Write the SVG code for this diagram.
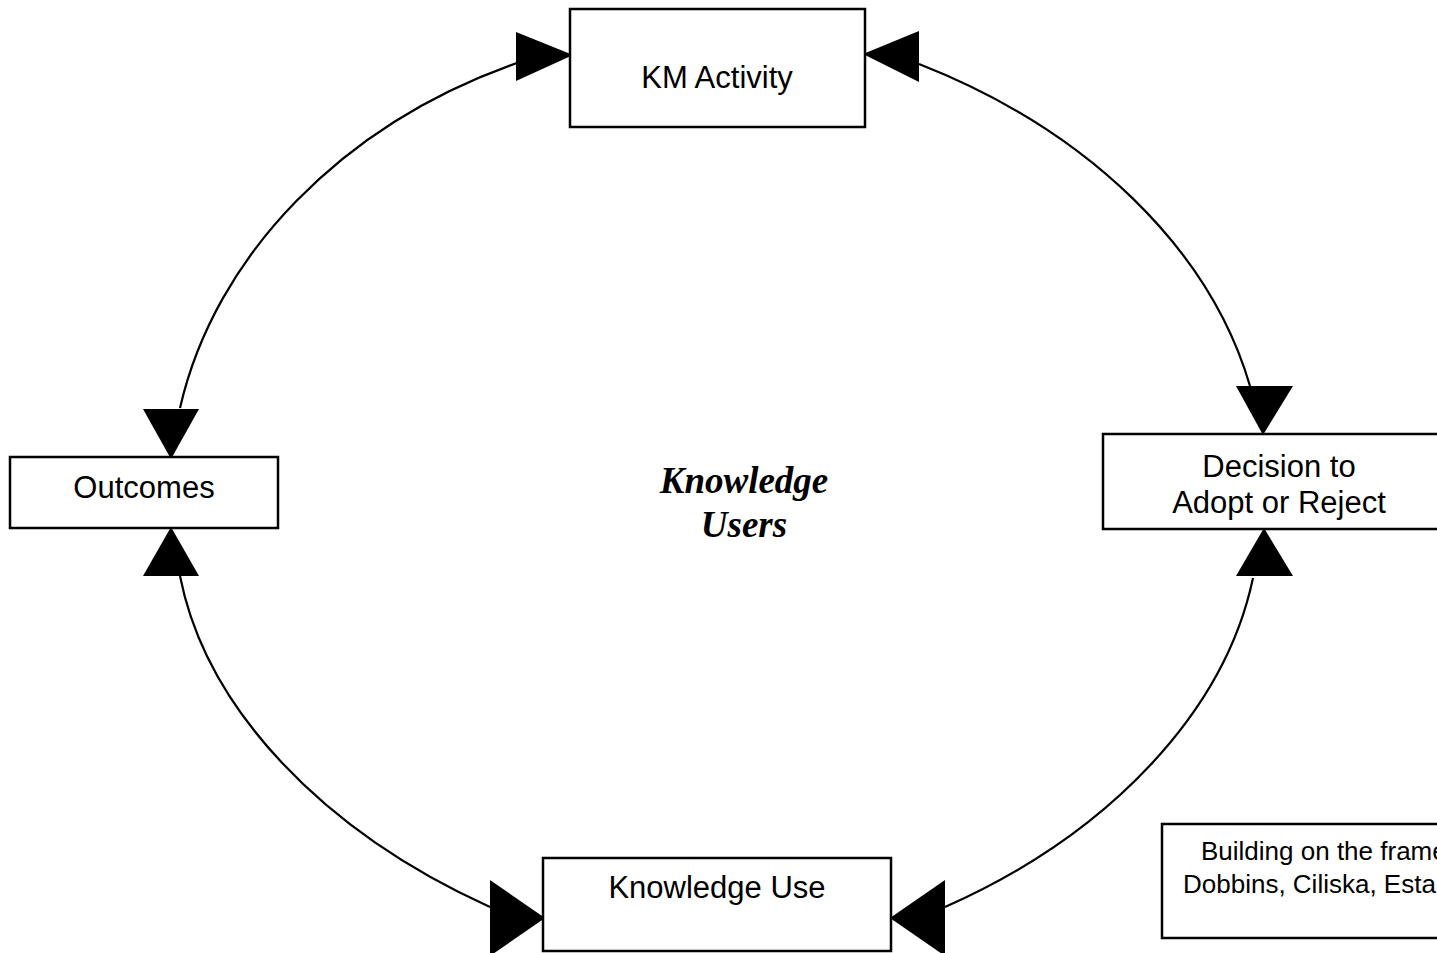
<svg xmlns="http://www.w3.org/2000/svg" width="1437" height="953" viewBox="0 0 1437 953">
<style>
.box{fill:#fff;stroke:#000;stroke-width:2.5}
.lbl{font-family:"Liberation Sans",Arial,sans-serif;font-size:31px;fill:#000;text-anchor:middle}
.note{font-family:"Liberation Sans",Arial,sans-serif;font-size:26px;fill:#000}
.ctr{font-family:"Liberation Serif","Times New Roman",serif;font-size:37px;font-weight:bold;font-style:italic;fill:#000;text-anchor:middle}
.arc{fill:none;stroke:#000;stroke-width:2.2}
.head{fill:#000;stroke:none}
</style>
<rect width="1437" height="953" fill="#fff"/>
<g id="connectors">
<path class="arc" d="M517,63 C343,124 215,255 180,408"/>
<path class="arc" d="M919,64 C1087.5,130 1210,249 1250,386"/>
<path class="arc" d="M180,576 C206,708 322,831 490,907"/>
<path class="arc" d="M1253,578 C1225,711 1110,834 945,907"/>
<polygon class="head" points="516,32 516,81 573,55"/>
<polygon class="head" points="919,31 919,82 863,54"/>
<polygon class="head" points="143,409 199,409 171,459"/>
<polygon class="head" points="143,576 199,576 171,527"/>
<polygon class="head" points="1236,386 1293,386 1263,435"/>
<polygon class="head" points="1236,576 1293,576 1264,528"/>
<polygon class="head" points="490,880 490,956 545,918"/>
<polygon class="head" points="945,880 945,956 890,918"/>
</g>
<g id="km-activity">
<rect class="box" x="570" y="9" width="295" height="118"/>
<text class="lbl" x="717" y="88">KM Activity</text>
</g>
<g id="outcomes">
<rect class="box" x="10" y="457" width="268" height="71"/>
<text class="lbl" x="144" y="498">Outcomes</text>
</g>
<g id="decision">
<rect class="box" x="1103" y="434" width="350" height="95"/>
<text class="lbl" x="1279" y="477">Decision to</text>
<text class="lbl" x="1279" y="513">Adopt or Reject</text>
</g>
<g id="knowledge-use">
<rect class="box" x="543" y="858" width="348" height="93"/>
<text class="lbl" x="717" y="898">Knowledge Use</text>
</g>
<g id="knowledge-users">
<text class="ctr" x="744" y="493">Knowledge</text>
<text class="ctr" x="744" y="537">Users</text>
</g>
<g id="note">
<rect class="box" x="1162" y="824" width="300" height="114"/>
<text class="note" x="1201" y="860">Building on the frame</text>
<text class="note" x="1183" y="893">Dobbins, Ciliska, Esta</text>
</g>
</svg>
